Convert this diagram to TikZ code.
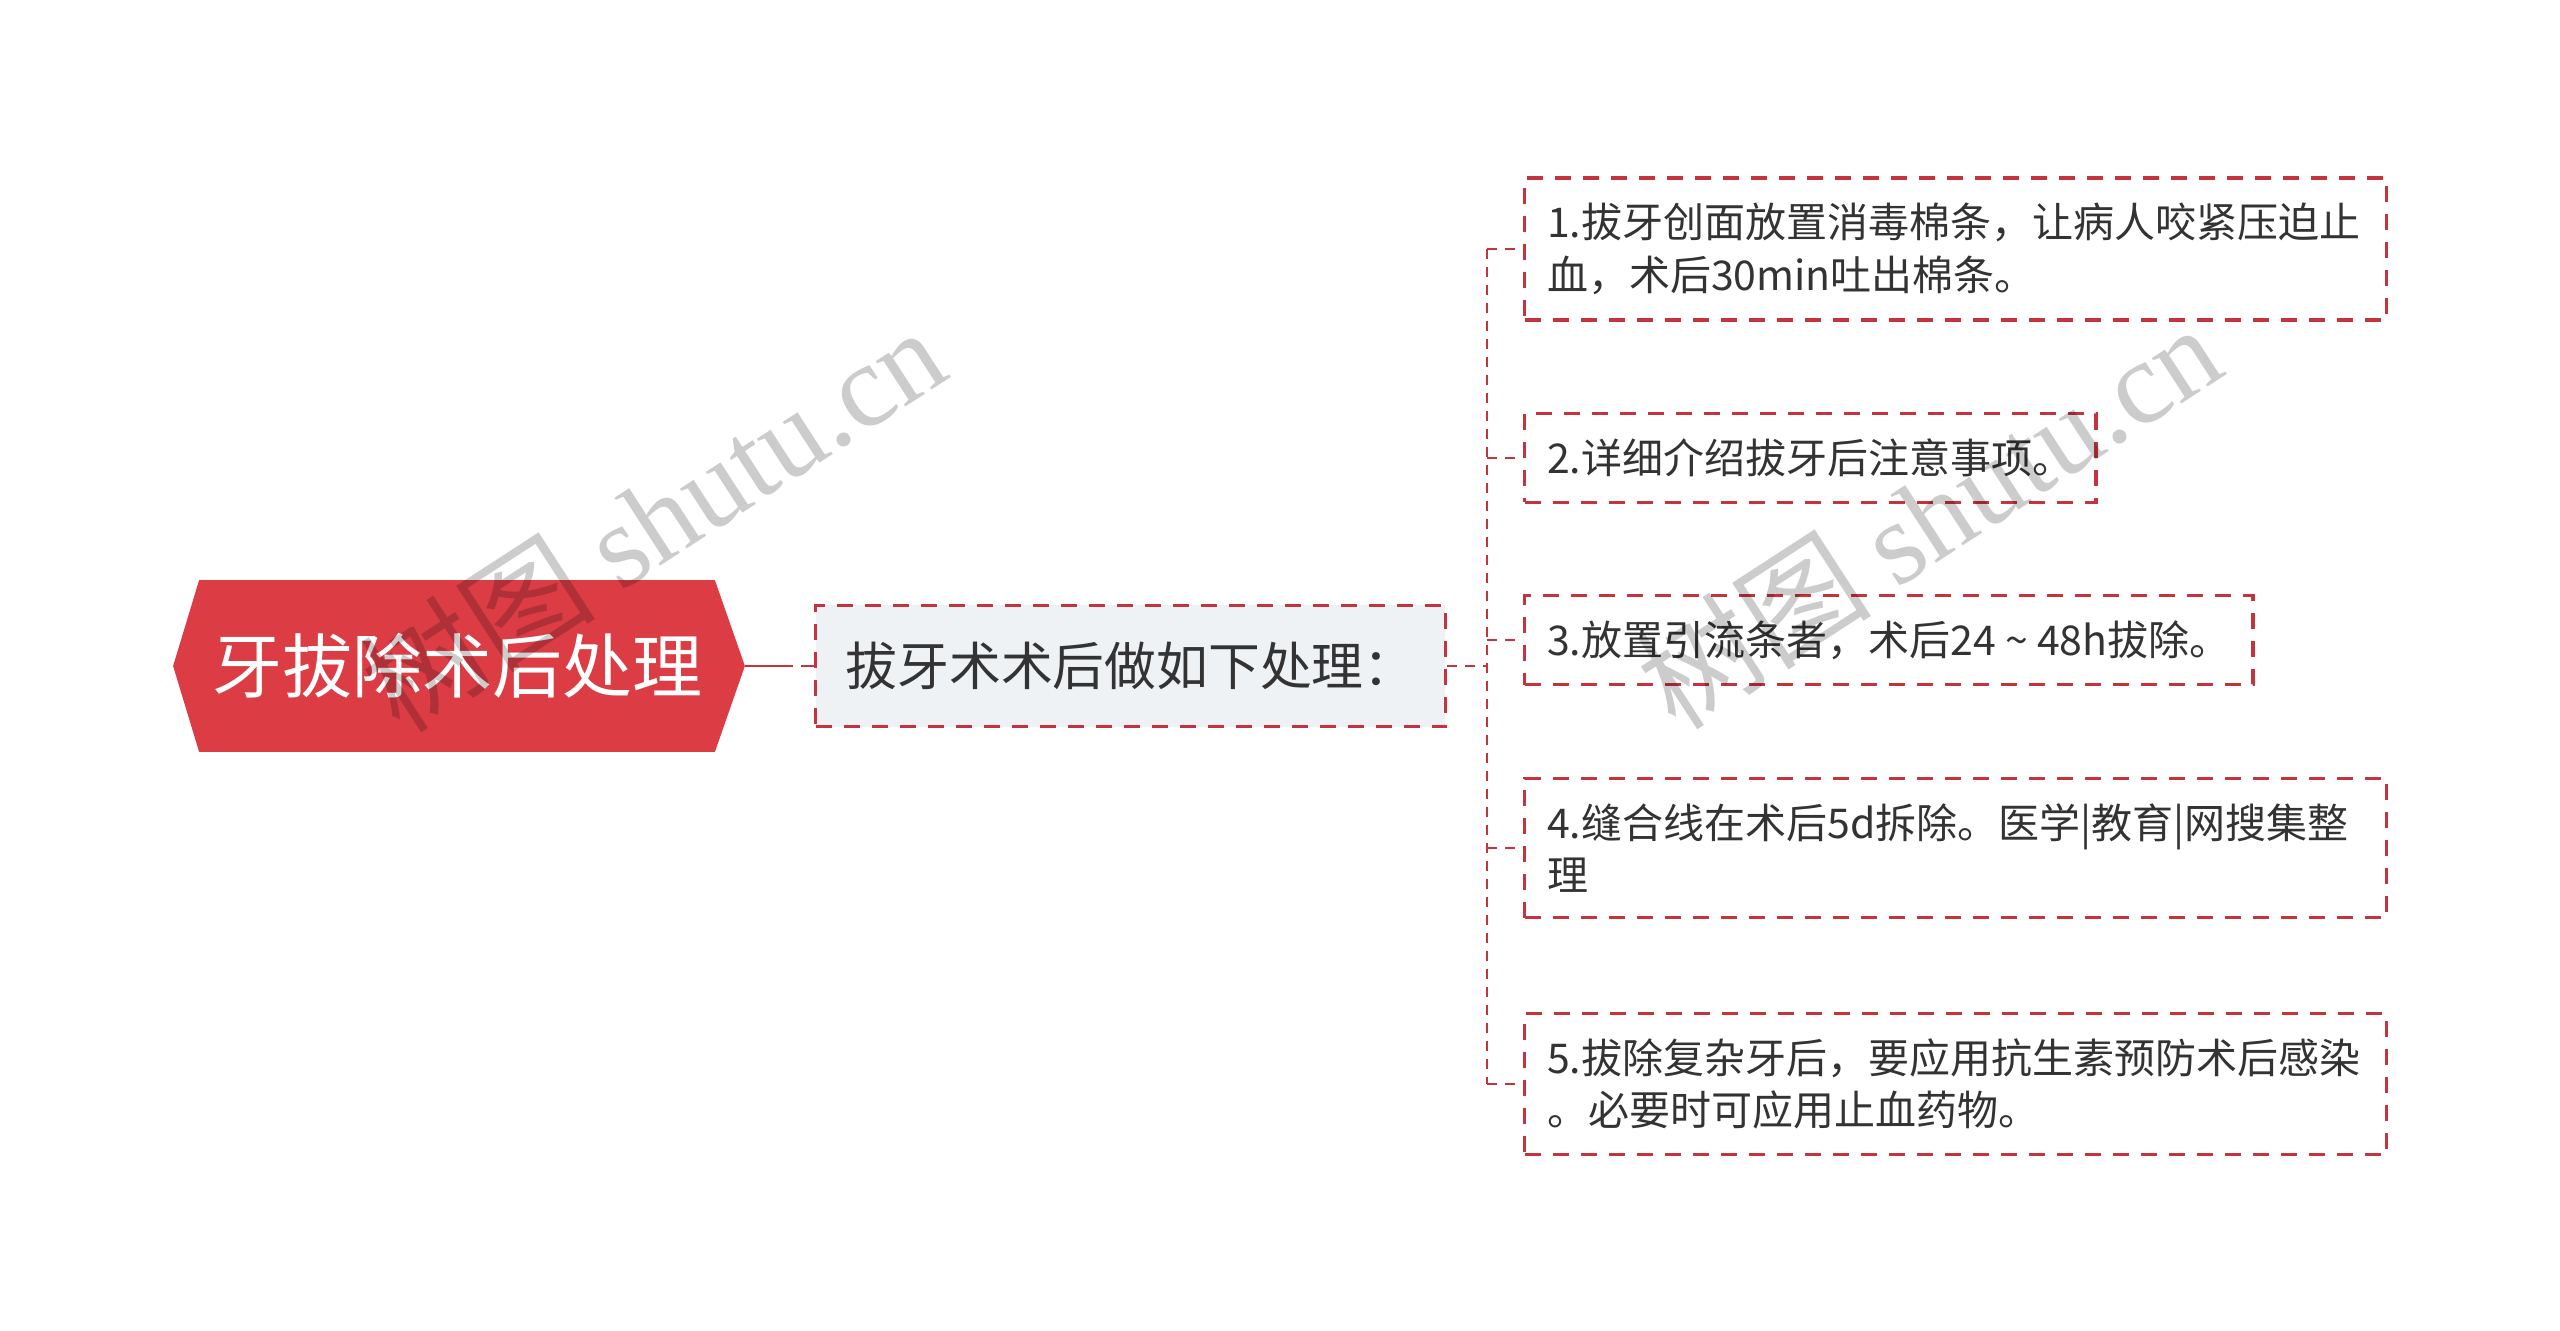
\documentclass[tikz,border=0pt]{standalone}
\usepackage{fontspec}
\setmainfont{Noto Sans CJK SC}
\newfontfamily\wmserif{Liberation Serif}
\usetikzlibrary{backgrounds}
\definecolor{rootred}{HTML}{DC3D45}
\definecolor{linered}{HTML}{C5343C}
\definecolor{midfill}{HTML}{EFF2F5}
\definecolor{txtgray}{HTML}{333333}
\tikzset{
  rootnode/.style={text=white,font=\fontsize{35}{42}\selectfont,minimum width=257.5pt,minimum height=85.5pt,inner sep=0pt},
  midnode/.style={draw=linered,line width=1.6pt,dash pattern=on 8pt off 6pt,fill=midfill,text=txtgray,font=\fontsize{25.9}{32}\selectfont,inner xsep=15pt,minimum height=60.8pt,anchor=west},
  leaf/.style={draw=linered,line width=1.6pt,dash pattern=on 8pt off 6pt,text=txtgray,font=\fontsize{20.5}{26.2}\selectfont,align=left,inner xsep=11.3pt,inner ysep=12.6pt,anchor=west},
  wide/.style={text width=408.5pt},
  link/.style={draw=linered,line width=1.4pt,dash pattern=on 5pt off 4pt},
  wm/.style={text=black,text opacity=0.2,font=\fontsize{59}{64}\selectfont,rotate=33}
}
\begin{document}
\begin{tikzpicture}[x=0.5pt,y=-0.5pt]
\useasboundingbox (0,0) rectangle (2560,1330);
% root
\node [rootnode] (root) at (457,666) {牙拔除术后处理};
\begin{scope}[on background layer]
\fill [rootred] ([xshift=-13pt]root.west) -- (root.north west) -- (root.north east)
  -- ([xshift=15pt]root.east) -- (root.south east) -- (root.south west) -- cycle;
\end{scope}
\coordinate (tip) at ([xshift=15pt]root.east);
% middle
\node [midnode] (mid) at (814,666) {拔牙术术后做如下处理：};
\draw [link,dash pattern=on 24pt off 4pt] (tip) -- (mid.west);
% leaves
\node [leaf,wide] (l1) at (1523,249) {1.拔牙创面放置消毒棉条，让病人咬紧压迫止\\血，术后30min吐出棉条。};
\node [leaf] (l2) at (1523,458) {2.详细介绍拔牙后注意事项。};
\node [leaf] (l3) at (1523,640) {3.放置引流条者，术后24 \textasciitilde{} 48h拔除。};
\node [leaf,wide] (l4) at (1523,848) {4.缝合线在术后5d拆除。医学|教育|网搜集整\\理};
\node [leaf,wide] (l5) at (1523,1084) {5.拔除复杂牙后，要应用抗生素预防术后感染\\。必要时可应用止血药物。};
% connectors
\coordinate (tr) at (1487,666);
\draw [link] (mid.east) -- (tr);
\draw [link] (tr|-l1.west) -- (tr|-l5.west);
\foreach \i in {1,...,5} \draw [link] (tr|-l\i.west) -- (l\i.west);
% watermark
\node [wm] (wm1) at (652,518) {树图 {\wmserif shutu.cn}};
\node [wm] (wm2) at (1928,515) {树图 {\wmserif shutu.cn}};
\end{tikzpicture}
\end{document}
